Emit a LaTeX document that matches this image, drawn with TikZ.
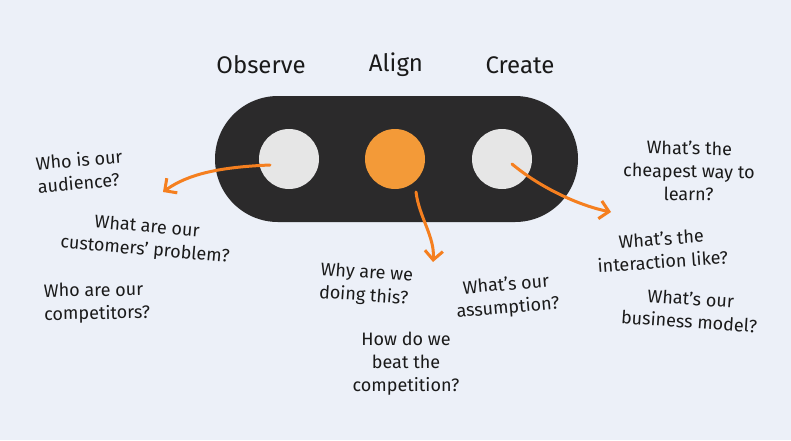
\documentclass[tikz,border=0pt]{standalone}
\usepackage{fontspec}
\setmainfont{Fira Sans}
\usetikzlibrary{arrows.meta,positioning,shapes.misc}
\definecolor{canvas}{HTML}{ECF0F8}
\definecolor{track}{HTML}{2B2A2B}
\definecolor{dotgray}{HTML}{E6E6E6}
\definecolor{dotorange}{HTML}{F39A38}
\definecolor{arrorange}{HTML}{F57F1F}
\definecolor{ink}{HTML}{1A1A1A}
\tikzset{
  pill/.style={rounded rectangle,fill=track,minimum width=363pt,
               minimum height=126pt,inner sep=0pt},
  stagedot/.style={circle,fill=dotgray,minimum size=60pt,inner sep=0pt},
  focusdot/.style={stagedot,fill=dotorange},
  headline/.style={font=\fontsize{24}{28}\selectfont,text=ink,inner sep=0pt},
  question/.style={font=\fontsize{18}{23}\selectfont,text=ink,
                   align=center,inner sep=0pt},
  orangearr/.style={-{Straight Barb[length=9pt,width=18pt]},line width=3pt,
                    draw=arrorange,line cap=round}
}
\begin{document}
\begin{tikzpicture}[x=1pt,y=-1pt]
    \path[fill=canvas,use as bounding box] (0,0) rectangle (791,440);
    % the track with its three stages
    \node[pill] (track) at (396.5,159) {};
    \node[stagedot] (obsdot) at (289,159) {};
    \node[focusdot] (aligndot) at (395,159) {};
    \node[stagedot] (createdot) at (502,159) {};

    \node[headline] (observe) at (261,65) {Observe};
    \node[headline] (align) at (396,65) {Align};
    \node[headline] (create) at (520,65) {Create};

    % questions
    \node[question,rotate=5,align=left] (q1) at (80,171)
      {Who is our\\audience?};
    \node[question,rotate=-5] (q2) at (146,239)
      {What are our\\customers' problem?};
    \node[question,rotate=1,align=left] (q3) at (97,303)
      {Who are our\\competitors?};
    \node[question,rotate=-4,align=left] (q4) at (366,285)
      {Why are we\\doing this?};
    \node[question,rotate=5] (q5) at (507,297)
      {What's our\\assumption?};
    \node[question] (q6) at (406,364)
      {How do we\\beat the\\competition?};
    \node[question,rotate=-1] (q7) at (689,171)
      {What's the\\cheapest way to\\learn?};
    \node[question,rotate=4] (q8) at (662,250)
      {What's the\\interaction like?};
    \node[question,rotate=-4] (q9) at (690,310)
      {What's our\\business model?};

    % arrows out of the stages
    \coordinate (obstip) at (163,192);
    \coordinate (aligntip) at (433,262);
    \coordinate (createtip) at (611,212);
    \draw[orangearr] ([shift={(-19,6)}]obsdot.center)
      .. controls +(-50,2) and +(25,-18) .. (obstip);
    \draw[orangearr] ([shift={(21,33)}]aligndot.center)
      .. controls +(3,25) and +(2,-25) .. (aligntip);
    \draw[orangearr] ([shift={(10,5)}]createdot.center)
      .. controls +(30,25) and +(-30,-6) .. (createtip);
  \end{tikzpicture}
\end{document}
